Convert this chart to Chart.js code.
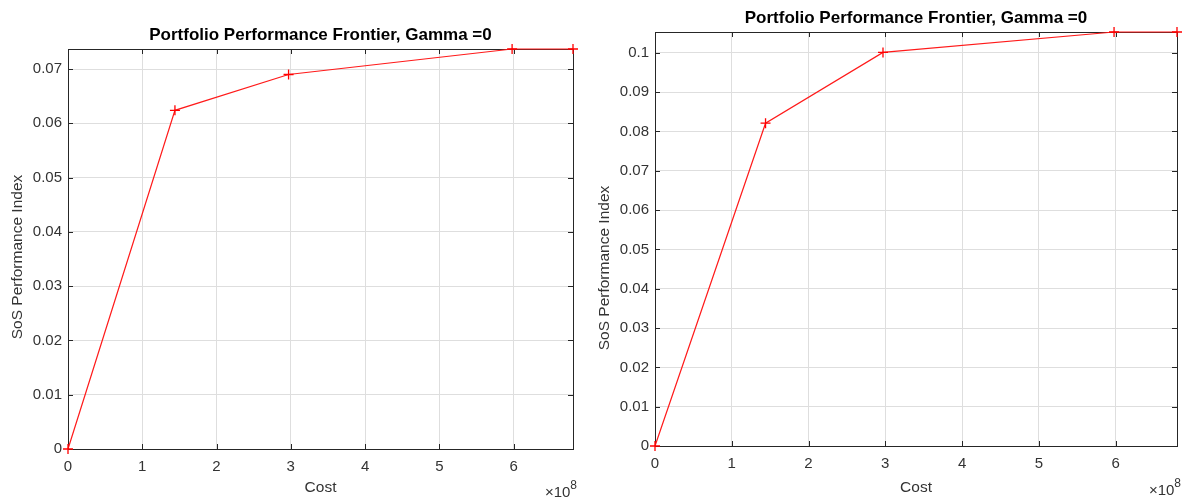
<!DOCTYPE html>
<html>
<head>
<meta charset="utf-8">
<script src="https://cdn.jsdelivr.net/npm/chart.js@4.4.0/dist/chart.umd.min.js"></script>
<style>
    body { margin: 0; background: #fff; }
    .wrap { position: absolute; top: 0; width: 592px; height: 500px; }
</style>
</head>
<body>
<div class="wrap" style="left:0"><canvas id="chartLeft" width="592" height="500"></canvas></div>
<div class="wrap" style="left:592px"><canvas id="chartRight" width="592" height="500"></canvas></div>
<script>
// data
const chartTitle = "Portfolio Performance Frontier, Gamma =0";
const costs = [0, 1.44e8, 2.97e8, 5.98e8, 6.8e8];
const sosLeft = [0, 0.0624, 0.0690, 0.0737, 0.0737];
const sosRight = [0, 0.0821, 0.1001, 0.1053, 0.1053];
const costTicks = ["0", "1", "2", "3", "4", "5", "6"];
const costExponent = "8";
const sosTicksLeft = ["0", "0.01", "0.02", "0.03", "0.04", "0.05", "0.06", "0.07"];
const sosTicksRight = ["0", "0.01", "0.02", "0.03", "0.04", "0.05", "0.06", "0.07", "0.08", "0.09", "0.1"];

const FONT = "'Liberation Sans', Arial, sans-serif";
const TEXT = "#333333";

// axes box, inner tick marks and labels, MATLAB style
const matlabFrame = {
    id: "matlabFrame",
    beforeDatasetsDraw(chart, args, opts) {
        const ctx = chart.ctx;
        const a = chart.chartArea;
        const xs = chart.scales.x;
        const ys = chart.scales.y;
        ctx.save();
        ctx.strokeStyle = "#262626";
        ctx.lineWidth = 1;
        ctx.beginPath();
        xs.ticks.forEach(t => {
            const px = Math.round(xs.getPixelForValue(t.value)) + 0.5;
            ctx.moveTo(px, a.bottom); ctx.lineTo(px, a.bottom - 5);
            ctx.moveTo(px, a.top); ctx.lineTo(px, a.top + 5);
        });
        ys.ticks.forEach(t => {
            const py = Math.round(ys.getPixelForValue(t.value)) + 0.5;
            ctx.moveTo(a.left, py); ctx.lineTo(a.left + 5, py);
            ctx.moveTo(a.right, py); ctx.lineTo(a.right - 5, py);
        });
        ctx.stroke();
        ctx.strokeRect(Math.round(a.left) + 0.5, Math.round(a.top) + 0.5,
            Math.round(a.right - a.left), Math.round(a.bottom - a.top));
        ctx.restore();
    },
    afterDraw(chart, args, opts) {
        const ctx = chart.ctx;
        const a = chart.chartArea;
        const cx = (a.left + a.right) / 2;
        ctx.save();
        ctx.fillStyle = "#000";
        ctx.textAlign = "center";
        ctx.textBaseline = "middle";
        ctx.font = "bold 17px " + FONT;
        ctx.fillText(chartTitle, cx, a.top - 14);

        ctx.fillStyle = TEXT;
        ctx.font = "15.5px " + FONT;
        ctx.fillText("Cost", cx, 488);

        ctx.save();
        ctx.translate(opts.yLabelX, opts.yLabelY);
        ctx.rotate(-Math.PI / 2);
        ctx.fillText("SoS Performance Index", 0, 0);
        ctx.restore();

        ctx.textAlign = "right";
        ctx.font = "12px " + FONT;
        const xr = a.right + 4;
        ctx.fillText(costExponent, xr, opts.expY - 7);
        const w8 = ctx.measureText(costExponent).width;
        ctx.font = "15px " + FONT;
        ctx.fillText("\u00d710", xr - w8, opts.expY);
        ctx.restore();
    }
};

function makeChart(id, values, yTicks, pad, yWidth, xHeight, labelOpts) {
    return new Chart(document.getElementById(id), {
        type: "line",
        data: {
            datasets: [{
                data: costs.map((c, i) => ({ x: c, y: values[i] })),
                borderColor: "#ff1a1a",
                borderWidth: 1.2,
                pointStyle: "cross",
                pointRadius: 5,
                pointBorderColor: "#ff0000",
                pointBorderWidth: 1.3,
                pointHoverRadius: 5,
                tension: 0,
                fill: false,
                clip: false
            }]
        },
        options: {
            responsive: false,
            animation: false,
            events: [],
            layout: { padding: pad },
            plugins: {
                legend: { display: false },
                tooltip: { enabled: false },
                matlabFrame: labelOpts
            },
            scales: {
                x: {
                    type: "linear",
                    bounds: "data",
                    min: 0,
                    max: costs[costs.length - 1],
                    border: { display: false },
                    grid: { color: "#dedede", drawTicks: false },
                    afterBuildTicks: s => {
                        s.ticks = costTicks.map(t => ({ value: Number(t) * 1e8 }));
                    },
                    ticks: {
                        autoSkip: false,
                        maxRotation: 0,
                        padding: 9,
                        color: TEXT,
                        font: { family: FONT, size: 15 },
                        callback: (v, i) => costTicks[i]
                    },
                    afterFit: s => {
                        s.height = xHeight;
                        s.paddingLeft = 0;
                        s.paddingRight = 0;
                    }
                },
                y: {
                    type: "linear",
                    bounds: "data",
                    min: 0,
                    max: values[values.length - 1],
                    border: { display: false },
                    grid: { color: "#dedede", drawTicks: false },
                    afterBuildTicks: s => {
                        s.ticks = yTicks.map(t => ({ value: Number(t) }));
                    },
                    ticks: {
                        autoSkip: false,
                        padding: 6,
                        color: TEXT,
                        font: { family: FONT, size: 15 },
                        callback: (v, i) => yTicks[i]
                    },
                    afterFit: s => {
                        s.width = yWidth;
                        s.paddingTop = 0;
                        s.paddingBottom = 0;
                    }
                }
            }
        },
        plugins: [matlabFrame]
    });
}

makeChart("chartLeft", sosLeft, sosTicksLeft,
    { left: 0, top: 49, right: 19, bottom: 0 }, 68, 51,
    { yLabelX: 18, yLabelY: 257, expY: 493 });

makeChart("chartRight", sosRight, sosTicksRight,
    { left: 0, top: 32, right: 7, bottom: 0 }, 63, 54,
    { yLabelX: 13, yLabelY: 268, expY: 491 });
</script>
</body>
</html>
